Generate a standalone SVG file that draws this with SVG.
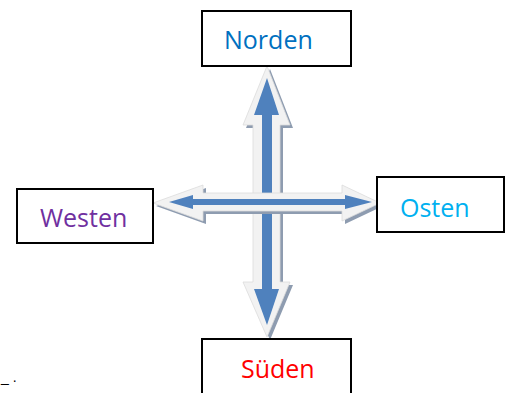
<svg xmlns="http://www.w3.org/2000/svg" width="507" height="393" viewBox="0 0 507 393">
<defs>
<style>
.box{fill:#ffffff;stroke:#000000;stroke-width:2}
.lbl{font-family:"Open Sans","Liberation Sans",sans-serif;font-size:25px}
.shadow{fill:#8e9cb0}
.outer{fill:#f2f2f2;stroke:#dcdcdc;stroke-width:0.8}
.inner{fill:#4f81bd}
</style>
</defs>
<rect width="507" height="393" fill="#ffffff"/>
<g id="connectors">
<g id="vertical-arrow">
<polygon class="shadow" transform="translate(3,3)" points="267,66 290,125 280,125 280,282 290,282 267,337 243,282 253,282 253,125 243,125"/>
<polygon class="outer" points="267,66 290,125 280,125 280,282 290,282 267,337 243,282 253,282 253,125 243,125"/>
<polygon class="inner" points="267,78 279,115 272,115 272,289 279,289 267,325 254,289 262,289 262,115 254,115"/>
</g>
<g id="horizontal-arrow">
<polygon class="shadow" transform="translate(3,3)" points="153,203 203,185 203,193 342,193 342,185 380,203 342,221 342,211 203,211 203,221"/>
<polygon class="outer" points="153,203 203,185 203,193 342,193 342,185 380,203 342,221 342,211 203,211 203,221"/>
<polygon class="inner" points="169,202 193,195 193,199 345,199 345,195 372,202 345,209 345,205 193,205 193,209"/>
</g>
</g>
<g id="node-norden">
<rect class="box" x="202" y="11" width="149" height="55"/>
<text class="lbl" x="224" y="49" fill="#0070c0">Norden</text>
</g>
<g id="node-westen">
<rect class="box" x="17" y="189" width="136" height="54"/>
<text class="lbl" x="40" y="227" fill="#7030a0">Westen</text>
</g>
<g id="node-osten">
<rect class="box" x="377" y="177" width="127" height="55"/>
<text class="lbl" x="400" y="217" fill="#00b0f0">Osten</text>
</g>
<g id="node-sueden">
<rect class="box" x="202" y="339" width="149" height="60"/>
<text class="lbl" x="241" y="378" fill="#ff0000">Süden</text>
</g>
<text x="1" y="382" font-family="Liberation Sans, sans-serif" font-size="14" fill="#000000">_ .</text>
</svg>
